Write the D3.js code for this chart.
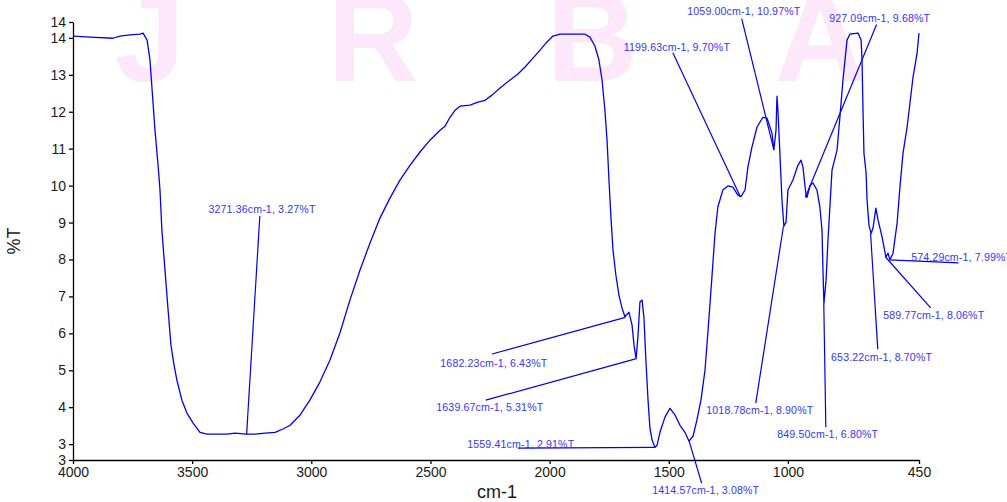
<!DOCTYPE html>
<html>
<head>
<meta charset="utf-8">
<script src="https://cdn.jsdelivr.net/npm/d3@7"></script>
<style>
  html, body { margin: 0; padding: 0; background: #fff; }
  svg { display: block; font-family: "Liberation Sans", Arial, Helvetica, sans-serif; }
  .axis text { font-size: 14px; fill: #1a1a1a; }
  .axis path, .axis line { stroke: #000; stroke-width: 1.3; }
  .peak-lbl { font-size: 10.6px; fill: #3535ff; letter-spacing: 0.15px; }
</style>
</head>
<body>
<svg id="chart" width="1007" height="502"></svg>
<script>
/* FTIR spectrum (%T vs cm-1) with peak picks */
// ----- data -----
var wavenumber = [4000, 3929, 3832, 3803, 3761, 3719, 3706, 3689, 3677, 3668, 3656, 3643, 3635, 3627, 3614, 3601,
  3589, 3576, 3564, 3543, 3522, 3496, 3467, 3438, 3354, 3320, 3274, 3236, 3194, 3152, 3119, 3089, 3047, 3006,
  2964, 2922, 2880, 2838, 2796, 2754, 2712, 2670, 2628, 2586, 2544, 2502, 2460, 2439, 2418, 2397, 2376, 2334,
  2301, 2271, 2242, 2208, 2166, 2133, 2103, 2070, 2040, 2011, 1986, 1956, 1852, 1831, 1810, 1793, 1780, 1768,
  1759, 1751, 1742, 1734, 1722, 1709, 1696, 1684, 1667, 1654, 1646, 1637, 1629, 1621, 1612, 1604, 1596, 1587,
  1579, 1570, 1558, 1549, 1537, 1516, 1495, 1474, 1453, 1432, 1415, 1398, 1382, 1365, 1348, 1336, 1319, 1306,
  1294, 1273, 1252, 1231, 1210, 1197, 1180, 1168, 1151, 1130, 1105, 1088, 1067, 1059, 1050, 1046, 1042, 1033,
  1025, 1017, 1008, 1000, 979, 958, 945, 937, 924, 920, 907, 895, 878, 866, 857, 853, 849, 840, 832, 815, 794,
  782, 769, 752, 740, 706, 693, 689, 685, 681, 672, 668, 660, 651, 643, 631, 622, 605, 593, 589, 580, 572, 559,
  542, 530, 517, 500, 488, 475, 458, 450];
var transmittance = [14.05, 14.02, 13.99, 14.05, 14.08, 14.10, 14.13, 13.94, 13.40, 12.59, 11.50, 10.55, 9.88, 8.79,
  7.71, 6.63, 5.68, 5.14, 4.73, 4.19, 3.84, 3.57, 3.32, 3.27, 3.27, 3.30, 3.27, 3.27, 3.30, 3.32, 3.41, 3.51,
  3.79, 4.19, 4.68, 5.27, 6.01, 6.90, 7.71, 8.44, 9.12, 9.66, 10.15, 10.55, 10.91, 11.23, 11.50, 11.61, 11.85,
  12.04, 12.15, 12.18, 12.26, 12.31, 12.45, 12.64, 12.86, 13.02, 13.21, 13.45, 13.67, 13.89, 14.05, 14.10,
  14.10, 14.02, 13.78, 13.40, 12.86, 12.04, 11.23, 10.15, 9.07, 8.25, 7.58, 7.03, 6.68, 6.45, 6.57, 6.22, 5.68,
  5.31, 5.95, 6.85, 6.90, 6.41, 5.27, 4.19, 3.43, 3.11, 2.91, 2.97, 3.32, 3.73, 3.97, 3.79, 3.51, 3.32, 3.08,
  3.22, 3.65, 4.19, 5.00, 6.01, 7.52, 8.71, 9.42, 9.88, 9.99, 9.96, 9.74, 9.70, 9.88, 10.50, 11.04, 11.58, 11.85,
  11.83, 11.42, 10.97, 11.50, 12.42, 12.04, 10.77, 9.61, 8.90, 9.01, 9.88, 10.15, 10.55, 10.69, 10.50, 9.74,
  9.68, 10.01, 10.07, 9.88, 9.42, 8.79, 7.71, 6.80, 7.44, 8.52, 10.42, 10.96, 11.85, 12.86, 13.94, 14.10, 14.13,
  13.94, 13.40, 12.04, 10.88, 10.34, 9.61, 8.93, 8.70, 8.85, 9.39, 9.07, 8.61, 8.20, 8.06, 8.17, 7.99, 8.17,
  8.98, 9.96, 10.88, 11.58, 12.23, 12.94, 13.59, 14.13];

// peak picks: peak position + where the label sits (in cm-1 / %T)
var peaks = [
  { w: 3271.36, t: 3.27,  lw: 3207, lt: 9.37,  sw: 3216, st: 9.18 },
  { w: 1682.23, t: 6.43,  lw: 2234, lt: 5.20,  sw: 2242, st: 5.44 },
  { w: 1639.67, t: 5.31,  lw: 2251, lt: 4.00,  sw: 2268, st: 4.19 },
  { w: 1559.41, t: 2.91,  lw: 2121, lt: 3.00,  sw: 2133, st: 2.89 },
  { w: 1414.57, t: 3.08,  lw: 1345, lt: 1.75,  sw: 1362, st: 1.94 },
  { w: 1199.63, t: 9.70,  lw: 1466, lt: 13.76, sw: 1483, st: 13.60 },
  { w: 1059.00, t: 10.97, lw: 1185, lt: 14.71, sw: 1194, st: 14.52 },
  { w: 927.09,  t: 9.68,  lw: 615,  lt: 14.54, sw: 628,  st: 14.36 },
  { w: 1018.78, t: 8.90,  lw: 1118, lt: 3.92,  sw: 1135, st: 4.11 },
  { w: 849.50,  t: 6.80,  lw: 833,  lt: 3.27,  sw: 841,  st: 3.46 },
  { w: 653.22,  t: 8.70,  lw: 607,  lt: 5.36,  sw: 623,  st: 5.57 },
  { w: 589.77,  t: 8.06,  lw: 388,  lt: 6.50,  sw: 401,  st: 6.69 },
  { w: 574.29,  t: 7.99,  lw: 271,  lt: 8.07,  sw: 284,  st: 7.91 }
];

var xTicks = [4000, 3500, 3000, 2500, 2000, 1500, 1000, 450];
var yTicks = [2.57, 3, 4, 5, 6, 7, 8, 9, 10, 11, 12, 13, 14, 14.43];
var watermark = ['J', 'R', 'B', 'A'];

(function () {
  var W = 1007, H = 502;
  var M = { left: 73, right: 88, top: 22, bottom: 42 };
  var svg = d3.select('#chart');

  // faint pink watermark behind everything (top is cut by the frame, as in the original)
  var wmX = [150, 373, 592, 820];
  svg.append('g').selectAll('text').data(watermark).enter().append('text')
    .attr('x', function (d, i) { return wmX[i]; })
    .attr('y', 81)
    .attr('text-anchor', 'middle')
    .style('font-size', '126px').style('font-weight', 'bold')
    .style('fill', '#fce8fa')
    .text(function (d) { return d; });

  var x = d3.scaleLinear().domain([4000, 450]).range([M.left, W - M.right]);
  var y = d3.scaleLinear().domain([2.57, 14.43]).range([H - M.bottom, M.top]);

  var xAxis = d3.axisBottom(x).tickValues(xTicks).tickFormat(d3.format('d')).tickSize(4).tickSizeOuter(0).tickPadding(3);
  var yAxis = d3.axisLeft(y).tickValues(yTicks).tickFormat(function (d) { return Math.round(d); }).tickSize(4).tickSizeOuter(0).tickPadding(3);

  svg.append('g').attr('class', 'axis').attr('transform', 'translate(0,' + (H - M.bottom) + ')').call(xAxis);
  svg.append('g').attr('class', 'axis').attr('transform', 'translate(' + M.left + ',0)').call(yAxis);

  svg.append('text').attr('x', (M.left + W - M.right) / 2 + 1).attr('y', H - 4)
    .attr('text-anchor', 'middle').style('font-size', '18px').style('fill', '#1a1a1a').text('cm-1');
  svg.append('text').attr('transform', 'translate(20,' + ((M.top + H - M.bottom) / 2) + ') rotate(-90)')
    .attr('text-anchor', 'middle').style('font-size', '18px').style('fill', '#1a1a1a').text('%T');

  // spectrum
  var pts = wavenumber.map(function (w, i) { return [w, transmittance[i]]; });
  var line = d3.line().x(function (d) { return x(d[0]); }).y(function (d) { return y(d[1]); });
  svg.append('path').datum(pts).attr('d', line)
    .attr('fill', 'none').attr('stroke', '#0000f5').attr('stroke-width', 1.3).attr('stroke-linejoin', 'round');

  // peak pick leaders + labels
  var gP = svg.append('g');
  gP.selectAll('line').data(peaks).enter().append('line')
    .attr('x1', function (d) { return x(d.sw); }).attr('y1', function (d) { return y(d.st); })
    .attr('x2', function (d) { return x(d.w); }).attr('y2', function (d) { return y(d.t); })
    .attr('stroke', '#0000f0').attr('stroke-width', 1.2);
  gP.selectAll('text').data(peaks).enter().append('text')
    .attr('class', 'peak-lbl')
    .attr('x', function (d) { return x(d.lw); }).attr('y', function (d) { return y(d.lt); })
    .attr('dy', '0.36em').attr('text-anchor', 'middle')
    .text(function (d) { return d.w.toFixed(2) + 'cm-1, ' + d.t.toFixed(2) + '%T'; });
})();
</script>
</body>
</html>
